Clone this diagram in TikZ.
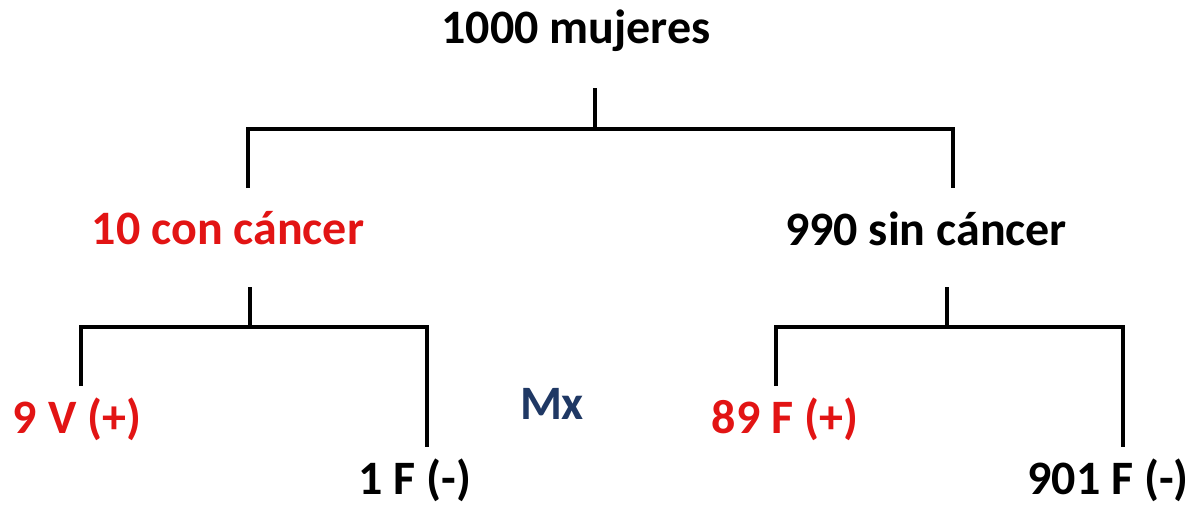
\documentclass[tikz,border=0pt]{standalone}
\usepackage{fontspec}
\setmainfont{Carlito}
\definecolor{rojo}{RGB}{226,20,20}
\definecolor{azul}{RGB}{31,56,100}
\begin{document}
\begin{tikzpicture}[x=1pt, y=-1pt, line width=4pt,
    lbl/.style={font=\bfseries\fontsize{48}{52}\selectfont, inner sep=0pt, anchor=base}]
    \useasboundingbox (0,0) rectangle (1196,506);
    % labels
    \node[lbl] (total) at (576,43) {1000 mujeres};
    \node[lbl, text=rojo] (con) at (228,244) {10 con cáncer};
    \node[lbl] (sin) at (926,245) {990 sin cáncer};
    \node[lbl, text=rojo] (vp) at (77,433) {9 V (+)};
    \node[lbl] (fn1) at (415,494) {1 F (-)};
    \node[lbl, text=azul] (mx) at (552,419) {Mx};
    \node[lbl, text=rojo] (fp) at (785,433) {89 F (+)};
    \node[lbl] (fn2) at (1108,494) {901 F (-)};
    % first split
    \coordinate (s0) at (595,88);  \coordinate (h0) at (595,129);
    \coordinate (a0) at (248,188); \coordinate (b0) at (953,188);
    \draw (s0) -- (h0);
    \draw (a0) |- (h0) -| (b0);
    % second split, con cancer
    \coordinate (s1) at (250,287); \coordinate (h1) at (250,327);
    \coordinate (a1) at (81,386);  \coordinate (b1) at (427,447);
    \draw (s1) -- (h1);
    \draw (a1) |- (h1) -| (b1);
    % second split, sin cancer
    \coordinate (s2) at (947,287); \coordinate (h2) at (947,327);
    \coordinate (a2) at (776,386); \coordinate (b2) at (1123,447);
    \draw (s2) -- (h2);
    \draw (a2) |- (h2) -| (b2);
\end{tikzpicture}
\end{document}
